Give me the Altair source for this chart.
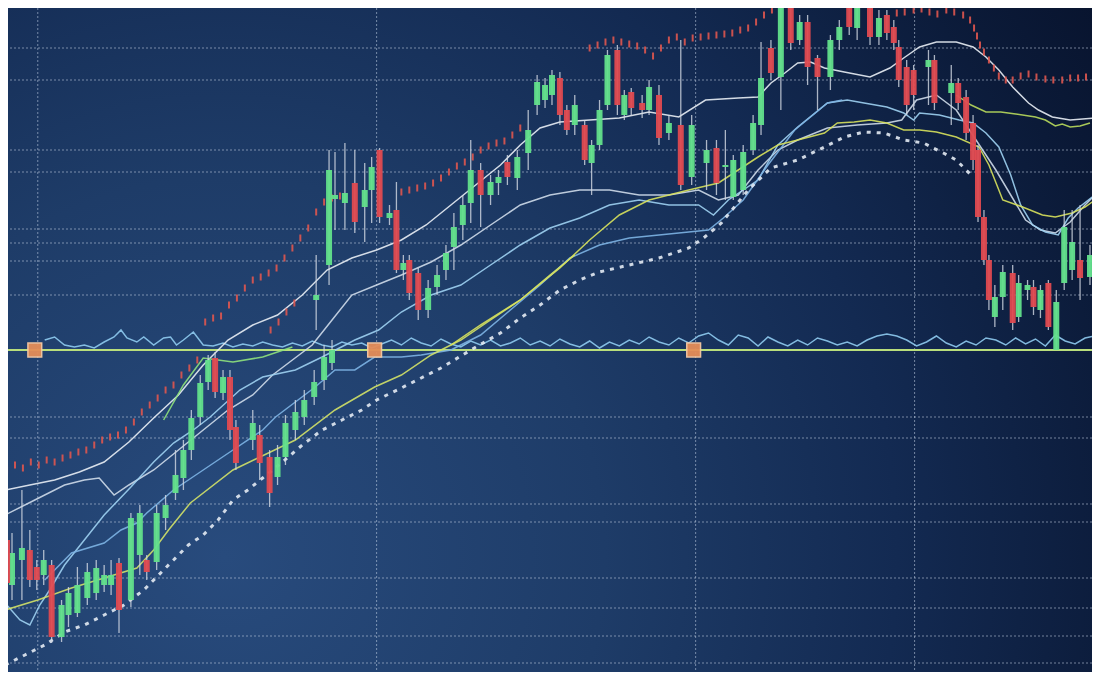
import altair as alt
import pandas as pd

# ---------------- data (time index t, price p) ----------------
# candles: (t, open, high, low, close)
candles = [
    (0.2, 14.0, 15.0, 9.0, 9.7), (0.7, 9.5, 14.7, 8.0, 12.7), (1.7, 12.0, 19.0, 8.0, 13.2),
    (2.5, 13.0, 15.0, 9.3, 10.0), (3.2, 11.3, 12.0, 9.0, 10.0), (3.9, 10.5, 13.0, 9.5, 12.0),
    (4.7, 11.5, 12.0, 3.7, 4.3), (5.7, 4.3, 8.0, 3.8, 7.5), (6.4, 6.5, 9.3, 5.3, 8.7),
    (7.3, 6.7, 11.3, 6.3, 9.5), (8.3, 8.2, 11.7, 7.5, 10.8), (9.2, 8.7, 12.0, 8.0, 11.2),
    (10.0, 9.5, 11.5, 8.8, 10.5), (10.7, 9.5, 12.0, 8.5, 10.5), (11.5, 11.7, 12.2, 4.7, 7.0),
    (12.7, 8.0, 16.7, 7.3, 16.2), (13.6, 12.5, 17.5, 10.5, 16.7), (14.3, 12.0, 12.5, 10.0, 10.8),
    (15.3, 11.8, 17.5, 11.0, 16.7), (16.2, 16.2, 18.5, 15.0, 17.5), (17.2, 18.7, 23.0, 18.0, 20.5),
    (18.0, 20.2, 24.0, 19.0, 23.0), (18.8, 23.0, 27.0, 22.0, 26.2), (19.7, 26.3, 30.5, 25.5, 29.7),
    (20.5, 29.8, 32.5, 29.0, 32.0), (21.2, 32.2, 32.8, 28.2, 28.8), (22.0, 28.7, 31.0, 28.0, 30.3),
    (22.7, 30.3, 31.0, 24.0, 25.0), (23.3, 25.3, 26.0, 21.0, 21.7), (25.0, 24.0, 27.0, 23.0, 25.7),
    (25.7, 24.5, 25.5, 20.0, 21.7), (26.7, 22.3, 23.0, 17.3, 18.7), (27.5, 20.3, 23.5, 19.5, 22.3),
    (28.3, 22.3, 26.5, 21.5, 25.7), (29.3, 25.0, 28.0, 24.0, 26.8), (30.2, 26.3, 29.0, 25.5, 28.0),
    (31.2, 28.3, 31.0, 27.5, 29.8), (32.2, 30.0, 33.5, 29.0, 32.3), (33.0, 31.7, 34.0, 31.0, 33.0),
    (31.4, 38.0, 42.5, 35.0, 38.5), (32.7, 41.5, 53.0, 39.5, 51.0), (33.3, 48.1, 52.8, 45.0, 48.5),
    (34.3, 47.7, 53.7, 45.0, 48.7), (35.3, 49.7, 53.0, 44.7, 45.8), (36.3, 47.3, 51.7, 43.8, 49.0),
    (37.0, 49.0, 52.3, 45.7, 51.3), (37.8, 53.0, 53.2, 45.7, 46.3), (38.8, 46.2, 47.5, 45.5, 46.7),
    (39.5, 47.0, 49.8, 40.7, 41.0), (40.2, 41.0, 42.5, 40.0, 41.7), (40.8, 42.0, 42.5, 38.0, 38.7),
    (41.7, 40.7, 41.2, 36.0, 37.0), (42.7, 37.0, 40.0, 36.2, 39.2), (43.6, 39.3, 41.5, 38.5, 40.5),
    (44.5, 41.0, 43.5, 40.0, 42.7), (45.3, 43.3, 46.7, 41.0, 45.3), (46.2, 45.5, 48.5, 44.0, 47.5),
    (47.0, 47.7, 54.0, 45.7, 51.0), (48.0, 51.0, 51.7, 45.3, 48.5), (49.0, 48.5, 50.5, 47.5, 49.8),
    (49.8, 49.7, 51.0, 48.5, 50.3), (50.7, 51.8, 52.5, 49.5, 50.3), (51.7, 50.2, 53.0, 49.0, 52.3),
    (52.8, 52.7, 57.0, 51.0, 55.0), (53.7, 57.5, 60.5, 56.5, 59.8), (54.5, 58.0, 60.2, 57.2, 59.5),
    (55.2, 58.5, 61.0, 57.5, 60.5), (56.0, 60.2, 60.8, 55.5, 56.5), (56.7, 57.0, 57.5, 54.5, 55.0),
    (57.5, 55.5, 58.5, 54.5, 57.5), (58.5, 55.5, 56.0, 51.5, 52.0), (59.2, 51.7, 54.0, 48.5, 53.5),
    (60.0, 53.5, 58.0, 53.0, 57.0), (60.8, 57.5, 63.0, 57.0, 62.5), (61.8, 63.0, 63.5, 56.5, 57.5),
    (62.5, 56.5, 59.0, 56.0, 58.5), (63.2, 58.8, 59.2, 56.5, 57.2), (64.3, 57.7, 58.5, 56.2, 57.0),
    (65.0, 57.0, 60.0, 56.5, 59.3), (66.0, 58.5, 59.5, 53.5, 54.2), (67.0, 54.7, 56.5, 54.0, 55.7),
    (68.2, 55.5, 64.0, 49.0, 49.5), (69.3, 50.3, 56.5, 49.5, 55.5), (70.8, 51.7, 54.0, 49.0, 53.0),
    (71.8, 53.2, 54.0, 48.5, 49.7), (72.7, 51.3, 55.0, 48.0, 51.5), (73.5, 48.3, 52.5, 48.0, 52.0),
    (74.5, 49.0, 53.5, 48.5, 52.8), (75.5, 53.0, 56.5, 52.5, 55.7), (76.3, 55.5, 63.8, 54.5, 60.2),
    (77.3, 63.2, 64.0, 60.0, 60.7), (78.3, 60.3, 68.0, 57.0, 67.8), (79.3, 67.8, 68.0, 63.0, 63.7),
    (80.2, 64.0, 66.5, 63.5, 65.8), (81.0, 65.8, 66.5, 59.5, 61.3), (82.0, 62.2, 62.5, 57.0, 60.3),
    (83.3, 60.3, 64.5, 59.0, 64.0), (84.2, 64.0, 66.0, 63.0, 65.3), (85.2, 67.8, 68.0, 64.5, 65.3),
    (86.0, 65.2, 68.0, 64.0, 67.8), (87.3, 67.2, 67.8, 63.5, 64.3), (88.2, 64.3, 67.0, 63.5, 66.2),
    (89.0, 66.5, 67.0, 64.0, 64.7), (89.7, 65.3, 66.0, 63.0, 63.7), (90.2, 63.3, 64.0, 59.3, 60.0),
    (91.0, 61.3, 62.0, 56.5, 57.5), (91.7, 61.0, 61.5, 57.0, 58.5), (93.2, 61.3, 63.0, 57.5, 62.0),
    (93.8, 62.0, 62.5, 57.0, 57.7), (95.5, 58.7, 61.5, 55.5, 59.7), (96.2, 59.7, 60.2, 57.0, 57.7),
    (97.0, 58.3, 59.0, 54.0, 54.7), (97.7, 55.7, 56.5, 51.0, 52.0), (98.2, 53.0, 53.5, 45.8, 46.3),
    (98.8, 46.3, 47.0, 41.5, 42.0), (99.3, 42.0, 42.5, 37.0, 38.0), (99.9, 36.3, 39.5, 35.3, 38.3),
    (100.7, 38.3, 41.5, 37.0, 40.8), (101.7, 40.7, 41.5, 35.0, 35.7), (102.3, 36.3, 40.5, 35.8, 39.7),
    (103.2, 39.0, 40.0, 38.0, 39.5), (103.8, 39.3, 40.0, 36.5, 37.3), (104.5, 37.0, 39.5, 36.2, 39.0),
    (105.3, 39.7, 40.0, 35.0, 35.3), (106.1, 33.0, 39.0, 33.0, 37.8), (106.9, 39.7, 47.0, 39.0, 45.3),
    (107.7, 41.0, 47.0, 40.0, 43.8), (108.5, 42.0, 47.5, 38.0, 40.2), (109.5, 40.3, 43.5, 39.5, 42.5),
]

white_a = [(0.0, 19.0), (2.5, 19.5), (5.0, 20.0), (7.5, 20.8), (10.0, 21.8), (12.5, 23.8), (15.0, 26.2),
           (17.5, 28.5), (20.0, 31.5), (22.5, 34.0), (25.0, 35.5), (27.5, 36.5), (30.0, 38.5), (32.5, 41.0),
           (35.0, 42.2), (37.5, 43.0), (40.0, 44.0), (42.5, 45.5), (45.0, 47.5), (47.5, 49.5), (50.0, 51.5),
           (52.0, 53.5), (54.0, 55.2), (56.0, 55.8), (59.0, 56.0), (62.0, 56.2), (65.0, 56.8), (68.0, 56.3),
           (70.7, 58.0), (74.0, 58.2), (76.0, 58.3), (77.3, 59.7), (78.7, 60.7), (80.0, 61.7), (81.3, 61.8),
           (82.7, 61.2), (84.7, 60.8), (87.3, 60.3), (89.3, 61.2), (90.7, 62.2), (92.3, 63.3), (94.0, 63.8),
           (96.0, 63.8), (97.7, 63.3), (99.0, 62.3), (100.3, 61.0), (101.7, 59.3), (103.3, 57.7),
           (104.3, 57.0), (105.7, 56.3), (107.5, 56.0), (110.0, 56.2)]

white_b = [(0.0, 16.5), (3.0, 18.0), (6.0, 19.5), (8.0, 20.0), (9.5, 20.2), (11.0, 18.5), (12.5, 19.5),
           (15.0, 21.0), (17.5, 23.0), (20.0, 25.0), (22.5, 27.0), (25.0, 28.5), (27.0, 30.5), (29.0, 32.0),
           (31.0, 33.5), (33.0, 36.0), (35.0, 38.5), (37.5, 39.5), (40.0, 40.5), (43.0, 41.8), (46.0, 43.5),
           (49.0, 45.5), (52.0, 47.5), (55.0, 48.5), (58.0, 49.0), (61.0, 49.0), (64.0, 48.5), (67.0, 48.5),
           (70.0, 49.0), (72.0, 48.0), (74.0, 48.5), (76.0, 51.0), (78.0, 53.0), (80.0, 54.0), (83.0, 55.2),
           (86.0, 55.5), (89.0, 55.7), (90.5, 56.0), (92.0, 58.0), (94.0, 58.5), (96.0, 57.0), (98.0, 54.0),
           (100.0, 51.0), (101.5, 48.5), (103.0, 46.0), (104.5, 45.0), (106.0, 44.7), (107.5, 45.8),
           (109.0, 47.5), (110.0, 48.5)]

blue_a = [(0.0, 7.7), (1.5, 6.0), (2.5, 5.5), (3.5, 7.5), (4.5, 9.0), (6.0, 11.5), (8.0, 14.0), (10.0, 16.5),
          (12.7, 19.3), (15.0, 21.8), (17.0, 23.7), (19.0, 25.0), (20.7, 26.3), (23.7, 29.0), (26.0, 30.3),
          (29.3, 31.0), (32.0, 32.3), (35.3, 34.0), (37.7, 35.0), (40.0, 36.8), (43.0, 38.5), (46.0, 39.5),
          (49.0, 41.5), (52.0, 43.5), (55.0, 45.2), (58.0, 46.2), (61.0, 47.5), (64.0, 48.0), (67.0, 47.5),
          (70.0, 47.5), (71.5, 46.5), (73.0, 48.0), (76.0, 50.0), (78.0, 53.5), (80.0, 55.3), (83.0, 57.7),
          (85.0, 58.0), (86.7, 57.7), (89.0, 57.3), (90.7, 56.7), (91.7, 56.0), (92.3, 56.7), (94.3, 56.5),
          (96.3, 56.0), (97.7, 55.7), (99.0, 54.7), (100.3, 53.3), (101.5, 50.5), (102.5, 47.5),
          (103.7, 45.5), (105.0, 44.8), (106.3, 44.5), (107.3, 46.2), (108.3, 47.2), (110.0, 48.5)]

blue_b = [(4.0, 10.0), (6.7, 12.7), (10.0, 13.7), (11.7, 15.0), (13.3, 15.7), (14.3, 16.7), (17.0, 19.0),
          (20.0, 21.0), (23.0, 23.0), (26.0, 25.0), (27.3, 26.3), (31.3, 29.3), (33.3, 31.0), (35.3, 31.0),
          (37.3, 32.3), (40.0, 32.3), (42.0, 32.5), (45.0, 33.0), (48.0, 34.5), (51.0, 37.0), (54.0, 39.5),
          (57.0, 42.2), (60.0, 43.5), (63.0, 44.2), (66.0, 44.5), (69.0, 44.8), (71.0, 45.0), (72.5, 46.2),
          (74.5, 48.0), (77.0, 51.5), (79.7, 55.0), (81.3, 56.3), (83.0, 57.7), (84.5, 58.0)]

yellow_a = [(0.0, 7.0), (3.3, 8.0), (6.7, 9.2), (10.0, 10.2), (13.3, 11.2), (15.0, 13.0), (16.5, 15.0),
            (18.7, 17.7), (23.0, 21.0), (29.3, 24.0), (33.3, 27.0), (37.3, 29.3), (40.0, 30.5), (43.0, 32.5),
            (46.0, 34.0), (49.0, 36.0), (52.0, 38.0), (55.0, 40.5), (57.5, 42.5)]

lime_a = [(16.0, 26.0), (18.0, 29.5), (20.0, 32.2), (23.0, 31.8), (26.0, 32.3), (29.0, 33.3)]

yellow_b = [(45.0, 33.5), (48.0, 35.5), (52.0, 38.0), (56.0, 41.2), (59.0, 44.0), (62.0, 46.5), (65.0, 48.0),
            (69.0, 49.0), (72.0, 49.7), (74.0, 51.0), (76.0, 52.3), (78.0, 53.5), (80.0, 54.0), (82.7, 54.7),
            (84.0, 55.7), (85.7, 55.8), (87.3, 56.0), (89.0, 55.7), (90.7, 55.0), (92.3, 55.0), (94.0, 54.8),
            (96.0, 54.3), (98.3, 53.3), (99.3, 51.5), (100.7, 48.0), (102.7, 47.3), (104.7, 46.5),
            (106.0, 46.3), (107.7, 46.7), (109.0, 47.3), (110.0, 48.0)]

yellow_c = [(96.0, 58.5), (97.5, 57.5), (99.0, 56.8), (100.5, 56.8), (102.0, 56.6), (104.0, 56.3),
            (105.0, 56.0), (106.0, 55.4), (106.7, 55.6), (107.5, 55.3), (108.5, 55.4), (109.5, 55.7)]

dotted_ma = [(0.0, 1.5), (2.0, 2.5), (4.0, 3.5), (6.0, 4.8), (8.0, 5.5), (10.0, 6.5), (12.0, 7.5), (14.0, 9.0),
             (15.5, 10.5), (17.0, 12.0), (18.5, 13.5), (20.0, 14.5), (21.5, 16.0), (23.0, 18.0), (24.5, 19.0),
             (26.0, 20.2), (28.0, 21.8), (30.0, 23.5), (32.0, 25.0), (34.0, 26.0), (36.0, 27.0), (37.5, 28.0),
             (40.0, 29.2), (42.0, 30.2), (44.0, 31.2), (47.0, 33.0), (50.0, 34.7), (52.0, 36.2), (54.0, 37.5),
             (56.0, 39.0), (58.0, 40.0), (60.0, 40.8), (63.0, 41.5), (66.0, 42.2), (69.0, 43.2), (70.5, 44.2),
             (72.3, 45.7), (75.0, 49.0), (77.3, 51.2), (80.0, 52.0), (82.7, 53.3), (84.7, 54.3), (86.7, 54.8),
             (88.7, 54.7), (90.7, 54.0), (92.7, 53.7), (94.7, 52.7), (96.0, 52.0), (97.5, 50.5)]

red_dots = [(0.2, 21.0), (1.0, 21.5), (1.8, 21.2), (2.6, 21.8), (3.4, 21.5), (4.2, 22.0), (5.0, 21.8),
            (5.8, 22.2), (6.6, 22.5), (7.4, 22.8), (8.2, 23.0), (9.0, 23.5), (9.8, 24.0), (10.6, 24.3),
            (11.4, 24.5), (12.2, 25.0), (13.0, 25.8), (13.8, 26.8), (14.6, 27.5), (15.4, 28.2), (16.2, 29.0),
            (17.0, 29.5), (17.8, 30.5), (18.6, 31.2), (19.4, 32.0), (20.2, 35.8), (21.0, 36.2), (21.8, 36.4),
            (22.6, 37.5), (23.4, 38.2), (24.2, 39.2), (25.0, 40.0), (25.8, 40.3), (26.6, 40.7), (27.4, 41.2),
            (28.2, 42.2), (29.0, 43.2), (29.8, 44.2), (30.6, 45.2), (31.4, 46.8), (32.2, 47.8), (33.0, 48.2),
            (33.8, 48.4), (26.8, 35.0), (27.6, 35.8), (28.4, 36.8), (29.2, 37.7),
            (40.0, 48.8), (40.8, 49.0), (41.6, 49.2), (42.4, 49.4), (43.2, 49.7), (44.0, 50.2), (44.8, 50.8),
            (45.6, 51.4), (46.4, 51.8), (47.2, 52.3), (48.0, 53.0), (48.8, 53.4), (49.6, 53.7), (50.4, 53.9),
            (51.2, 54.5), (52.0, 55.2),
            (59.0, 63.2), (59.8, 63.5), (60.6, 63.8), (61.4, 64.0), (62.2, 63.8), (63.0, 63.6), (63.8, 63.4),
            (64.6, 63.0), (65.4, 62.4), (66.2, 63.2), (67.0, 64.0), (67.8, 64.3), (68.6, 63.8), (69.4, 64.2),
            (70.2, 64.3), (71.0, 64.4), (71.8, 64.5), (72.6, 64.6), (73.4, 64.7), (74.2, 65.0), (75.0, 65.2),
            (75.8, 65.8), (76.6, 66.5), (77.4, 67.0),
            (90.0, 66.7), (90.8, 66.8), (91.7, 67.0), (92.5, 67.1), (93.3, 66.8), (94.1, 66.6), (95.0, 67.0),
            (95.8, 66.8), (96.7, 66.5), (97.4, 66.0), (97.8, 65.2), (98.1, 64.4), (98.4, 63.5), (98.8, 62.8),
            (99.3, 62.0), (99.8, 61.2), (100.3, 60.4), (101.0, 60.0), (101.7, 60.0), (102.5, 60.4),
            (103.3, 60.6), (104.1, 60.3), (105.0, 60.1), (105.8, 60.0), (106.7, 60.0), (107.5, 60.2),
            (108.3, 60.2), (109.1, 60.3), (109.9, 60.3)]

oscillator = [(4.0, 34.0), (5.0, 34.3), (6.0, 33.5), (7.0, 33.3), (8.0, 33.5), (9.0, 33.2), (10.0, 33.8),
              (11.0, 34.3), (11.7, 35.0), (12.3, 34.2), (13.3, 33.8), (14.0, 34.3), (15.0, 33.5), (16.0, 34.2),
              (16.7, 34.3), (17.3, 33.5), (18.0, 34.0), (19.0, 34.8), (20.0, 33.5), (21.0, 33.4), (22.0, 33.7),
              (23.0, 33.3), (24.0, 33.6), (25.0, 33.4), (26.0, 33.8), (27.0, 33.5), (28.0, 33.3), (29.0, 33.7),
              (30.0, 33.4), (31.0, 33.9), (32.0, 33.5), (33.0, 33.3), (34.0, 33.8), (35.0, 33.5), (36.0, 33.7),
              (37.0, 33.2), (38.0, 33.6), (39.0, 34.0), (40.0, 33.5), (41.0, 34.2), (42.0, 33.7), (43.0, 33.4),
              (44.0, 34.1), (45.0, 33.6), (46.0, 33.3), (47.0, 33.9), (48.0, 33.5), (49.0, 34.0), (50.0, 33.4),
              (51.0, 33.7), (52.0, 34.2), (53.0, 33.5), (54.0, 33.9), (55.0, 33.4), (56.0, 34.1), (57.0, 33.6),
              (58.0, 33.3), (59.0, 33.9), (60.0, 33.2), (61.0, 33.8), (62.0, 33.4), (63.0, 34.0), (64.0, 33.6),
              (65.0, 34.3), (66.0, 33.8), (67.0, 33.5), (68.0, 34.2), (69.0, 33.7), (70.0, 34.4), (71.0, 34.7),
              (72.0, 34.0), (73.0, 33.5), (74.0, 34.5), (75.0, 34.2), (76.0, 33.4), (77.0, 34.3), (78.0, 33.8),
              (79.0, 33.4), (80.0, 34.0), (81.0, 33.5), (82.0, 34.2), (83.0, 33.9), (84.0, 33.5), (85.0, 33.8),
              (86.0, 33.4), (87.0, 34.0), (88.0, 34.4), (89.0, 34.6), (90.0, 34.4), (91.0, 34.0), (92.0, 33.4),
              (93.0, 33.8), (94.0, 34.4), (95.0, 33.7), (96.0, 33.3), (97.0, 33.9), (98.0, 33.5), (99.0, 34.2),
              (100.0, 34.0), (101.0, 33.5), (102.0, 34.2), (103.0, 33.6), (104.0, 34.1), (105.0, 33.4),
              (106.0, 34.5), (107.0, 33.9), (108.0, 33.6), (109.0, 34.2), (110.0, 34.4)]

grid_x = [3.3, 37.5, 69.7, 91.8]
grid_y = [63.2, 60.0, 53.0, 50.8, 45.1, 43.7, 41.9, 38.5, 26.3, 24.2, 17.6, 15.8, 10.2, 7.2, 4.4, 1.7]
base_level = [33.0]
marker_t = [3.0, 37.3, 69.5]

# ---------------- frames ----------------
cdf = pd.DataFrame(candles, columns=["t", "open", "high", "low", "close"])
cdf["dir"] = ["up" if c >= o else "down" for o, c in zip(cdf["open"], cdf["close"])]
up_df = cdf[cdf["dir"] == "up"]
down_df = cdf[cdf["dir"] == "down"]

series = {
    "white_a": white_a, "white_b": white_b, "blue_a": blue_a, "blue_b": blue_b,
    "yellow_a": yellow_a, "lime_a": lime_a, "yellow_b": yellow_b, "yellow_c": yellow_c,
}
series_colors = {
    "white_a": "#e9eef5", "white_b": "#cfdbea", "blue_a": "#9fd2f2", "blue_b": "#7db4e4",
    "yellow_a": "#d3e267", "lime_a": "#8fe27c", "yellow_b": "#d8e25c", "yellow_c": "#b9dc5c",
}
rows = []
for name, pts in series.items():
    for i, (t, p) in enumerate(pts):
        rows.append({"series": name, "i": i, "t": t, "p": p})
ldf = pd.DataFrame(rows)
ddf = pd.DataFrame([{"i": i, "t": t, "p": p} for i, (t, p) in enumerate(dotted_ma)])
rdf = pd.DataFrame(red_dots, columns=["t", "p"])
odf = pd.DataFrame([{"i": i, "t": t, "p": p} for i, (t, p) in enumerate(oscillator)])
gx = pd.DataFrame({"t": grid_x})
gy = pd.DataFrame({"p": grid_y})
bdf = pd.DataFrame({"p": base_level})
mdf = pd.DataFrame({"t": marker_t, "p": base_level * len(marker_t)})

W, H = 1084, 664
XS = alt.Scale(domain=[0.8, 109.2], nice=False, zero=False)
YS = alt.Scale(domain=[0.8, 67.2], nice=False, zero=False)
xq = lambda f="t": alt.X(f"{f}:Q", scale=XS, axis=None)
yq = lambda f="p": alt.Y(f"{f}:Q", scale=YS, axis=None)

grad = alt.RadialGradient(
    gradient="radial",
    stops=[alt.GradientStop(offset=0, color="#284b7d"),
           alt.GradientStop(offset=0.35, color="#1e3c68"),
           alt.GradientStop(offset=0.62, color="#132a52"),
           alt.GradientStop(offset=0.85, color="#0b1a38"),
           alt.GradientStop(offset=1, color="#07112a")],
    x1=0.2, y1=0.7, r1=0, x2=0.2, y2=0.7, r2=1.0,
)
bg = alt.Chart(pd.DataFrame({"a": [0]})).mark_rect(fill=grad).encode(
    x=alt.value(0), x2=alt.value(W), y=alt.value(0), y2=alt.value(H))

grid_h = alt.Chart(gy).mark_rule(color="#c9d5e8", strokeDash=[2, 2], strokeWidth=1, opacity=0.55).encode(y=yq())
grid_v = alt.Chart(gx).mark_rule(color="#c9d5e8", strokeDash=[2, 2], strokeWidth=1, opacity=0.55).encode(x=xq())

osc = alt.Chart(odf).mark_line(color="#8fcbef", strokeWidth=1.5, opacity=0.9, clip=True).encode(
    x=xq(), y=yq(), order="i:Q")
base = alt.Chart(bdf).mark_rule(color="#b9de7c", strokeWidth=2.2).encode(y=yq())

lines = alt.Chart(ldf).mark_line(strokeWidth=1.5, opacity=0.9, clip=True).encode(
    x=xq(), y=yq(),
    color=alt.Color("series:N", legend=None,
                    scale=alt.Scale(domain=list(series_colors.keys()), range=list(series_colors.values()))),
    detail="series:N", order="i:Q")

dotted = alt.Chart(ddf).mark_line(color="#e3eaf3", strokeWidth=3, strokeDash=[4, 6], opacity=0.9,
                                  clip=True).encode(x=xq(), y=yq(), order="i:Q")

reds = alt.Chart(rdf).mark_tick(orient="vertical", size=7, thickness=2, color="#e0564f",
                                opacity=0.9, clip=True).encode(x=xq(), y=yq())

wicks = alt.Chart(cdf).mark_rule(color="#d3dae4", strokeWidth=1.3, opacity=0.8, clip=True).encode(
    x=xq(), y=yq("low"), y2="high:Q")
bodies_up = alt.Chart(up_df).mark_bar(size=6, clip=True, color="#62e08b", opacity=0.95).encode(
    x=xq(), y=yq("open"), y2="close:Q")
bodies_down = alt.Chart(down_df).mark_bar(size=6, clip=True, color="#e04a50", opacity=0.95).encode(
    x=xq(), y=yq("open"), y2="close:Q")

markers = alt.Chart(mdf).mark_square(size=190, fill="#e58d58", stroke="#f7c9a2", strokeWidth=1.5,
                                     opacity=0.95).encode(x=xq(), y=yq())

chart = alt.layer(bg, grid_h, grid_v, osc, base, lines, dotted, reds, wicks, bodies_up, bodies_down,
                  markers).properties(
    width=W, height=H, padding=0, autosize=alt.AutoSizeParams(type="none"), background="#102247"
).configure_view(strokeWidth=0)

chart.save("out.html", embed_options={"renderer": "svg", "actions": False})
